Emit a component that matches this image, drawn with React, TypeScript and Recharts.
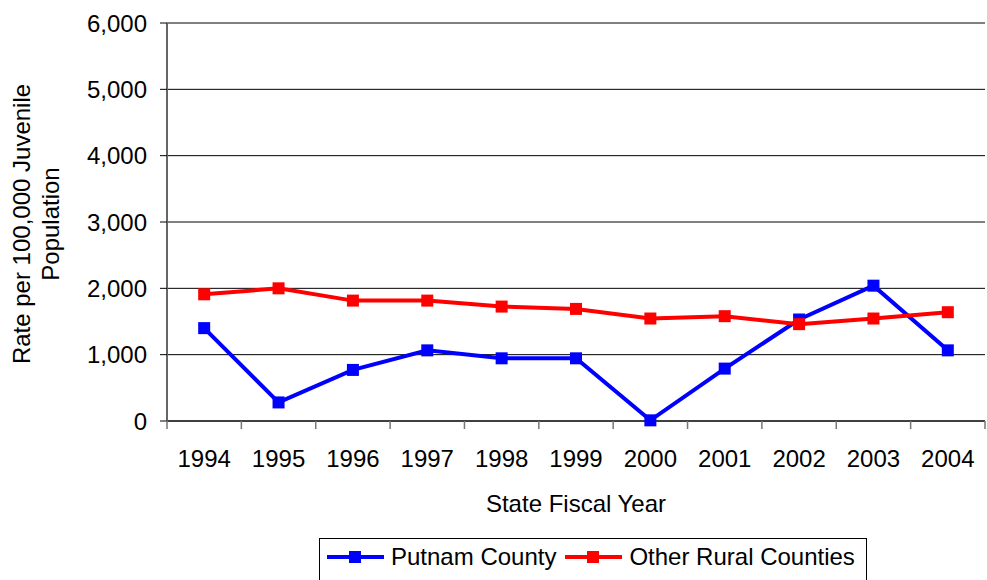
import React from 'react';
import {
    LineChart, Line, XAxis, YAxis, CartesianGrid, Legend
} from 'recharts';

const YEARS = ['1994', '1995', '1996', '1997', '1998', '1999', '2000', '2001', '2002', '2003', '2004'];
const PUTNAM = [1400, 280, 770, 1065, 945, 945, 10, 790, 1530, 2040, 1065];
const OTHER_RURAL = [1910, 2000, 1815, 1815, 1725, 1690, 1545, 1580, 1460, 1545, 1640];
const Y_TICKS = [0, 1000, 2000, 3000, 4000, 5000, 6000];
const SERIES_ORDER = ['putnam', 'other'];

const DATA = YEARS.map((year, i) => ({ year, putnam: PUTNAM[i], other: OTHER_RURAL[i] }));

const W = 987;
const H = 580;
const MARGIN = { top: 23, right: 2, bottom: 59, left: 0 };
const Y_AXIS_W = 167;
const PLOT_W = W - MARGIN.left - MARGIN.right - Y_AXIS_W;
const STEP = PLOT_W / YEARS.length;
const FONT = '"Liberation Sans", Arial, sans-serif';

const squareDot = (color: string) => (p: any) => (
    <rect key={p.index} x={p.cx - 6} y={p.cy - 6} width={12} height={12} fill={color} />
);

// year label centred in its band, tick marks on the band edges
const YearTick = (p: any) => {
    const { x, y, payload, index } = p;
    const last = index === YEARS.length - 1;
    return (
        <g>
            <line x1={x - STEP / 2} x2={x - STEP / 2} y1={y} y2={y + 8} stroke="#777" strokeWidth={1.5} />
            {last && <line x1={x + STEP / 2} x2={x + STEP / 2} y1={y} y2={y + 8} stroke="#777" strokeWidth={1.5} />}
            <text x={x} y={y + 46} textAnchor="middle" fontSize={24} fill="#000" fontFamily={FONT}>
                {payload.value}
            </text>
        </g>
    );
};

const YTitle = (p: any) => {
    const vb = p.viewBox || {};
    const cy = vb.y + vb.height / 2 + 2;
    return (
        <g fontSize={24} fill="#000" fontFamily={FONT}>
            <text x={30} y={cy} textAnchor="middle" transform={`rotate(-90, 30, ${cy})`}>Rate per 100,000 Juvenile</text>
            <text x={59} y={cy} textAnchor="middle" transform={`rotate(-90, 59, ${cy})`}>Population</text>
        </g>
    );
};

const XTitle = (p: any) => {
    const vb = p.viewBox || {};
    return (
        <text x={vb.x + vb.width / 2} y={vb.y + 91} textAnchor="middle" fontSize={24} fill="#000" fontFamily={FONT}>
            State Fiscal Year
        </text>
    );
};

const LegendBox = (p: any) => {
    const items = [...(p.payload || [])].sort(
        (a: any, b: any) => SERIES_ORDER.indexOf(a.dataKey) - SERIES_ORDER.indexOf(b.dataKey)
    );
    return (
        <div style={{
            display: 'flex', alignItems: 'flex-start', border: '1px solid #000', height: 45,
            boxSizing: 'border-box', padding: '4px 0 0 7px',
            fontFamily: FONT, fontSize: 24, lineHeight: '28px', color: '#000', width: 548
        }}>
            {items.map((item: any, i: number) => (
                <div key={i} style={{ display: 'flex', alignItems: 'center', marginRight: 9, height: 28 }}>
                    <svg width={58} height={14} style={{ marginRight: 6 }}>
                        <line x1={0} x2={57} y1={7} y2={7} stroke={item.color} strokeWidth={4} />
                        <rect x={22} y={1} width={12} height={12} fill={item.color} />
                    </svg>
                    <span>{item.value}</span>
                </div>
            ))}
        </div>
    );
};

export default function App() {
    return (
        <div style={{ width: W, height: H, overflow: 'hidden', background: '#fff' }}>
            <style>{'body{margin:0}'}</style>
            <LineChart width={W} height={H} data={DATA} margin={MARGIN}>
                <CartesianGrid vertical={false} stroke="#000" strokeWidth={1} />
                <XAxis
                    dataKey="year" scale="band" interval={0} height={100}
                    axisLine={{ stroke: '#000' }} tickLine={false} tickSize={0} tickMargin={0}
                    tick={<YearTick />}
                    label={<XTitle />}
                />
                <YAxis
                    width={Y_AXIS_W} domain={[0, 6000]} ticks={Y_TICKS} interval={0}
                    tickFormatter={(v: number) => v.toLocaleString('en-US')}
                    axisLine={{ stroke: '#666', strokeWidth: 2 }}
                    tickLine={{ stroke: '#000' }} tickSize={7} tickMargin={13}
                    tick={{ fontSize: 24, fill: '#000', fontFamily: FONT }}
                    label={<YTitle />}
                />
                <Legend
                    layout="horizontal" verticalAlign="middle" align="center"
                    wrapperStyle={{ top: 538, left: 319, width: 'auto', height: 'auto' }}
                    content={<LegendBox />}
                />
                <Line
                    dataKey="putnam" name="Putnam County" stroke="#0000FF" strokeWidth={4}
                    dot={squareDot('#0000FF')} activeDot={false} isAnimationActive={false}
                />
                <Line
                    dataKey="other" name="Other Rural Counties" stroke="#FF0000" strokeWidth={4}
                    dot={squareDot('#FF0000')} activeDot={false} isAnimationActive={false}
                />
            </LineChart>
        </div>
    );
}
